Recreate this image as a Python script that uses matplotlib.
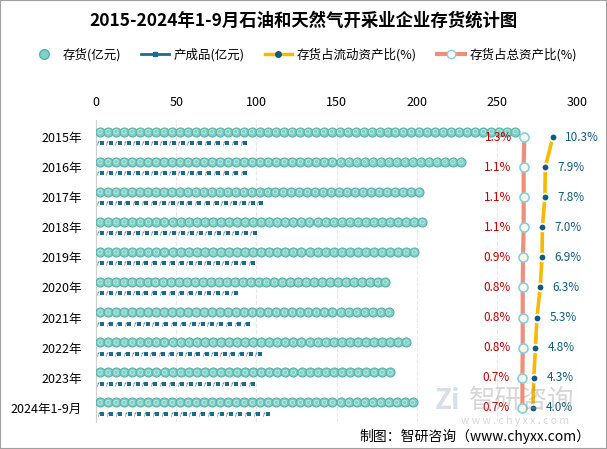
import numpy as np
import matplotlib
matplotlib.use('Agg')
import matplotlib.pyplot as plt
from matplotlib.lines import Line2D
from matplotlib.patches import Rectangle

plt.rcParams['font.family'] = ['Noto Sans CJK SC', 'DejaVu Sans']

# data
years = ['2015年', '2016年', '2017年', '2018年', '2019年', '2020年', '2021年',
         '2022年', '2023年', '2024年1-9月']
inventory = [264, 230, 204, 206, 201, 183, 185, 196, 186, 200]      # 存货(亿元)
products = [95, 95, 105, 101, 100, 89, 97, 104, 100, 109]           # 产成品(亿元)
ratio_current = [10.3, 7.9, 7.8, 7.0, 6.9, 6.3, 5.3, 4.8, 4.3, 4.0]  # 存货占流动资产比(%)
ratio_total = [1.3, 1.1, 1.1, 1.1, 0.9, 0.8, 0.8, 0.8, 0.7, 0.7]     # 存货占总资产比(%)

teal = '#7fd0c6'
teal_edge = '#55b3a8'
navy = '#1d6a8a'
orange = '#f7b900'
pink = '#ef8f7a'
red_txt = '#c00000'
blue_txt = '#0f5c80'

fig = plt.figure(figsize=(6.07, 4.49), dpi=100)
ax = fig.add_axes([96 / 607, 1 - 422 / 449, 481 / 607, 302 / 449])

y = np.arange(len(years))

# pictorial bars: repeated symbols spread evenly along each bar length
circ_step = 5.0
prod_step = 5.6
for i in range(len(years)):
    n = max(1, round(inventory[i] / circ_step))
    xs = (np.arange(n) + 0.5) * inventory[i] / n
    ax.scatter(xs, np.full(n, y[i] - 0.18), s=42, c=teal, edgecolors=teal_edge,
               linewidths=0.8, zorder=3)
    ax.scatter(xs, np.full(n, y[i] - 0.18), s=9, facecolors='none',
               edgecolors='#bfe8e2', linewidths=0.6, zorder=4)
    m = max(1, round(products[i] / prod_step))
    xp = (np.arange(m) + 0.5) * products[i] / m
    ax.scatter(xp + 0.9, np.full(m, y[i] + 0.2), s=9, c=navy, marker='s',
               linewidths=0, zorder=3)
    ax.scatter(xp - 1.3, np.full(m, y[i] + 0.2), s=10, c=navy, marker='$f$',
               linewidths=0, zorder=3)

ax.set_xlim(0, 300)
ax.set_ylim(9.47, -0.565)
ax.set_yticks(y)
ax.set_yticklabels(years, fontsize=9)
ax.tick_params(axis='y', length=0, pad=10)
ax.grid(axis='x', color='#e8e8e8', linestyle='--', linewidth=0.8)
ax.set_axisbelow(True)
for s in ['top', 'right', 'bottom']:
    ax.spines[s].set_visible(False)
ax.spines['left'].set_color('#d0d0d0')

# ratio lines on a hidden second axis
ax2 = ax.twiny()
ax2.set_xlim(-133.6, 17.9)
ax2.set_ylim(9.47, -0.565)
ax2.axis('off')
ax2.plot(ratio_total, y, color=pink, lw=3, zorder=5)
ax2.plot(ratio_total, y, 'o', ms=6.5, mfc='#fbf9e6', mec='#86cfe8', mew=1.2, zorder=6)
ax2.plot(ratio_current, y, color=orange, lw=2.6, zorder=5)
ax2.plot(ratio_current, y, 'o', ms=5.5, mfc=blue_txt, mec='white', mew=1.3, zorder=6)
for i in range(len(years)):
    ax2.annotate(f'{ratio_total[i]}%', (ratio_total[i], y[i]), xytext=(-9, 0),
                 textcoords='offset points', ha='right', va='center',
                 color=red_txt, fontsize=8.5, zorder=7)
    ax2.annotate(f'{ratio_current[i]}%', (ratio_current[i], y[i]), xytext=(9, 0),
                 textcoords='offset points', ha='left', va='center',
                 color=blue_txt, fontsize=8.5, zorder=7)

# value axis on top (set after twiny, which moves it)
ax.xaxis.set_ticks_position('top')
ax.xaxis.set_label_position('top')
ax.set_xticks(np.arange(0, 301, 50))
ax.tick_params(axis='x', length=0, labelsize=9, pad=8, labeltop=True, labelbottom=False)

fig.text(0.5, 1 - 21 / 449, '2015-2024年1-9月石油和天然气开采业企业存货统计图',
         ha='center', va='center', fontsize=12.5, fontweight='bold')

handles = [
    Line2D([], [], marker='o', ms=7, mfc=teal, mec=teal_edge, lw=0),
    Line2D([], [], marker='s', ms=3, color=navy, lw=2),
    Line2D([], [], marker='o', ms=4, mfc=blue_txt, mec=blue_txt, color=orange, lw=2.5),
    Line2D([], [], marker='o', ms=6, mfc='white', mec='#86cfe8', color=pink, lw=3),
]
labels = ['存货(亿元)', '产成品(亿元)', '存货占流动资产比(%)', '存货占总资产比(%)']
fig.legend(handles, labels, loc='center', bbox_to_anchor=(0.5, 1 - 55 / 449), ncol=4,
           frameon=False, fontsize=9, handlelength=2.2, columnspacing=1.6,
           handletextpad=0.4)

# watermark
fig.text(522 / 607, 1 - 400 / 449, '智研咨询', ha='center', va='center', fontsize=19,
         color='#9a9a9a', alpha=0.4, zorder=10)
fig.text(515 / 607, 1 - 421 / 449, 'w w w . c h y x x . c o m', ha='center', va='center',
         fontsize=7.5, color='#9a9a9a', alpha=0.4, zorder=10)
fig.text(448 / 607, 1 - 401 / 449, 'Zi', ha='center', va='center', fontsize=20,
         fontweight='bold', color='#a8b8d0', alpha=0.45, zorder=10)

fig.text(590 / 607, 1 - 436 / 449, '制图：智研咨询（www.chyxx.com）', ha='right', va='center',
         fontsize=10)

fig.add_artist(Rectangle((0, 0), 1, 1, transform=fig.transFigure, fill=False,
                         edgecolor='#a0a0a0', lw=1.5))

fig.savefig('out.png', dpi=100)
